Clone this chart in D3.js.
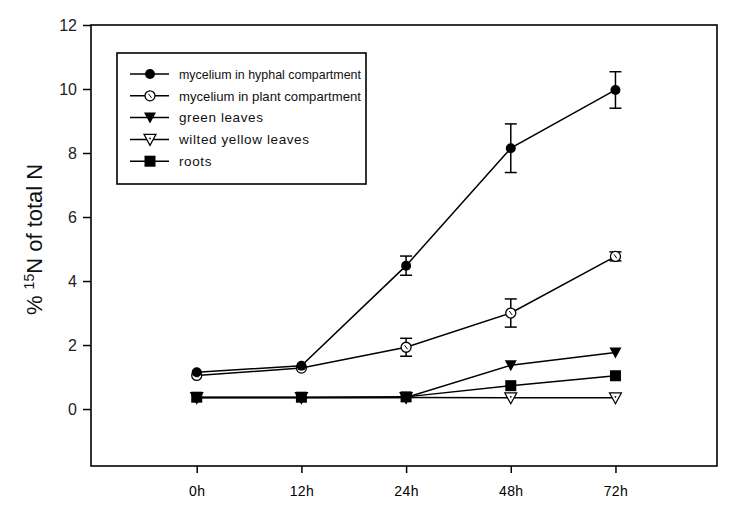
<!DOCTYPE html>
<html>
<head>
<meta charset="utf-8">
<script src="https://cdn.jsdelivr.net/npm/d3@7"></script>
<style>
  body { margin: 0; background: #fff; }
  svg { display: block; font-family: "Liberation Sans", Arial, sans-serif; }
</style>
</head>
<body>
<script>
// time points and % 15N values
var times = ["0h", "12h", "24h", "48h", "72h"];
var hyphal = [1.15, 1.35, 4.48, 8.15, 9.97];
var hyphalErr = [0.05, 0.08, 0.3, 0.76, 0.57];
var plant = [1.05, 1.28, 1.93, 3.0, 4.77];
var plantErr = [0.05, 0.05, 0.28, 0.44, 0.14];
var green = [0.35, 0.35, 0.36, 1.37, 1.77];
var greenErr = [0, 0, 0, 0.08, 0.05];
var wilted = [0.36, 0.36, 0.36, 0.35, 0.35];
var roots = [0.37, 0.37, 0.38, 0.73, 1.04];
var yTicks = [0, 2, 4, 6, 8, 10, 12];

var series = [
  {name: "mycelium in hyphal compartment", v: hyphal, err: hyphalErr, sym: "circleFill"},
  {name: "mycelium in plant compartment", v: plant, err: plantErr, sym: "circleOpen"},
  {name: "green leaves", v: green, err: greenErr, sym: "triFill"},
  {name: "wilted yellow leaves", v: wilted, err: null, sym: "triOpen"},
  {name: "roots", v: roots, err: null, sym: "square"}
];

var W = 733, H = 516;
var margin = {top: 25, right: 16, bottom: 50, left: 91};
var width = W - margin.left - margin.right,
    height = H - margin.top - margin.bottom;

var svg = d3.select("body").append("svg").attr("width", W).attr("height", H);
var g = svg.append("g").attr("transform", "translate(" + margin.left + "," + margin.top + ")");

var x = d3.scaleLinear().domain([-1.01, 4.97]).range([0, width]);
var y = d3.scaleLinear().domain([-1.78, 12]).range([height, 0]);

// frame
g.append("rect").attr("width", width).attr("height", height)
  .attr("fill", "none").attr("stroke", "#000").attr("stroke-width", 1.6);

// axes
var xa = g.append("g").attr("transform", "translate(0," + height + ")")
  .call(d3.axisBottom(x).tickValues(d3.range(times.length)).tickFormat(function(i) { return times[i]; })
        .tickSize(7).tickSizeOuter(0));
xa.select(".domain").remove();
xa.selectAll("line").attr("stroke-width", 1.5);
xa.selectAll("text").attr("font-size", 14).attr("font-family", "Liberation Sans, Arial, sans-serif")
  .attr("dy", "1.4em").attr("fill", "#000").attr("letter-spacing", 0.4);

var ya = g.append("g")
  .call(d3.axisLeft(y).tickValues(yTicks).tickSize(8).tickPadding(6).tickSizeOuter(0));
ya.select(".domain").remove();
ya.selectAll("line").attr("stroke-width", 1.5);
ya.selectAll("text").attr("font-size", 16).attr("font-family", "Liberation Sans, Arial, sans-serif")
  .attr("fill", "#222");

// y label
var yl = svg.append("text")
  .attr("transform", "translate(42," + (margin.top + y(5.3)) + ") rotate(-90)")
  .attr("text-anchor", "middle").attr("font-size", 22).attr("fill", "#111");
yl.append("tspan").text("% ");
yl.append("tspan").attr("font-size", 14).attr("dy", -8).text("15");
yl.append("tspan").attr("dy", 8).text("N of total N");

function drawSym(sel, sym) {
  if (sym === "circleFill") {
    sel.append("circle").attr("r", 5).attr("fill", "#000");
  } else if (sym === "circleOpen") {
    sel.append("circle").attr("r", 5).attr("fill", "#fff").attr("stroke", "#000").attr("stroke-width", 1.3);
    sel.append("line").attr("x1", -1.5).attr("y1", -2).attr("x2", 1.5).attr("y2", 2)
      .attr("stroke", "#000").attr("stroke-width", 1);
  } else if (sym === "triFill") {
    sel.append("path").attr("d", "M-6,-5L6,-5L0,6Z").attr("fill", "#000");
  } else if (sym === "triOpen") {
    sel.append("path").attr("d", "M-6,-5L6,-5L0,6Z").attr("fill", "#fff")
      .attr("stroke", "#000").attr("stroke-width", 1.2);
    sel.append("circle").attr("r", 0.9).attr("cy", -1).attr("fill", "#000");
  } else {
    sel.append("rect").attr("x", -5.5).attr("y", -5.5).attr("width", 11).attr("height", 11).attr("fill", "#000");
  }
}

var line = d3.line().x(function(d, i) { return x(i); }).y(function(d) { return y(d); });

// draw bottom series first so the mycelium lines sit on top
series.slice().reverse().forEach(function(s) {
  var sg = g.append("g");
  sg.append("path").datum(s.v).attr("fill", "none").attr("stroke", "#000")
    .attr("stroke-width", 1.5).attr("d", line);
  if (s.err) {
    s.v.forEach(function(v, i) {
      var e = s.err[i];
      if (e < 0.1) return;
      var eg = sg.append("g").attr("stroke", "#000").attr("stroke-width", 1.5);
      eg.append("line").attr("x1", x(i)).attr("x2", x(i)).attr("y1", y(v - e)).attr("y2", y(v + e));
      eg.append("line").attr("x1", x(i) - 6).attr("x2", x(i) + 6).attr("y1", y(v + e)).attr("y2", y(v + e));
      eg.append("line").attr("x1", x(i) - 6).attr("x2", x(i) + 6).attr("y1", y(v - e)).attr("y2", y(v - e));
    });
  }
  s.v.forEach(function(v, i) {
    drawSym(sg.append("g").attr("transform", "translate(" + x(i) + "," + y(v) + ")"), s.sym);
  });
});

// legend
var lg = svg.append("g").attr("transform", "translate(117,53)");
lg.append("rect").attr("width", 249).attr("height", 131)
  .attr("fill", "#fff").attr("stroke", "#000").attr("stroke-width", 1.6);
series.forEach(function(s, i) {
  var row = lg.append("g").attr("transform", "translate(0," + (21 + i * 21.8) + ")");
  row.append("line").attr("x1", 13).attr("x2", 52).attr("stroke", "#000").attr("stroke-width", 1.5);
  drawSym(row.append("g").attr("transform", "translate(33,0)"), s.sym);
  var t = row.append("text").attr("x", 62).attr("dy", "0.35em").attr("font-size", 13.5)
    .attr("letter-spacing", 0.6).attr("fill", "#111").text(s.name);
  // long labels are squeezed a little to stay inside the box
  var maxW = 182;
  if (t.node().getComputedTextLength() > maxW) {
    t.attr("letter-spacing", 0).attr("textLength", maxW).attr("lengthAdjust", "spacingAndGlyphs");
  }
});
</script>
</body>
</html>
